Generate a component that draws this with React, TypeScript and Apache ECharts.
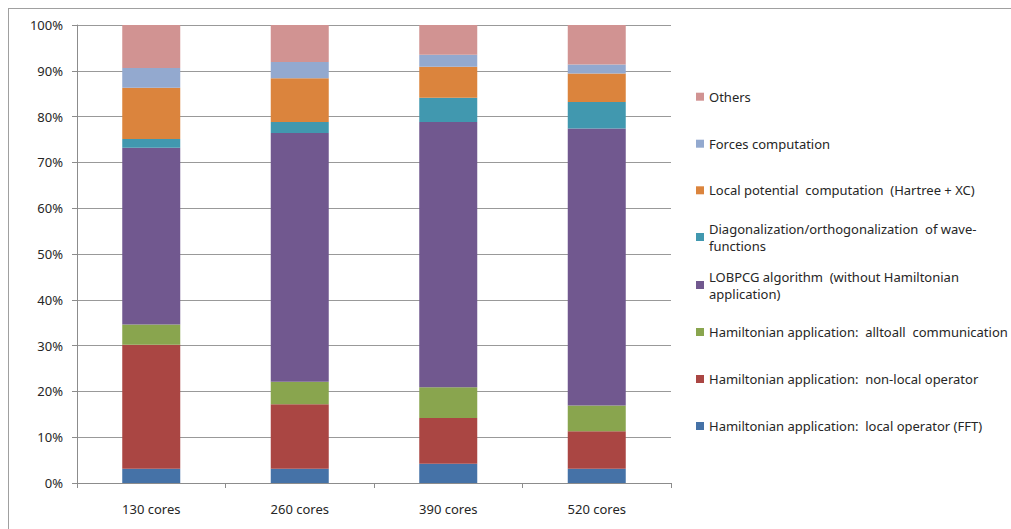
import React, { useEffect, useRef } from "react";
import * as echarts from "echarts";

const categories = ["130 cores", "260 cores", "390 cores", "520 cores"];
const yTicks = { min: 0, max: 100, interval: 10 };

const fftLocal = [3.1, 3.1, 4.2, 3.1];
const nonLocal = [27.1, 14.1, 10.0, 8.2];
const alltoall = [4.4, 4.9, 6.7, 5.6];
const lobpcg = [38.6, 54.3, 57.9, 60.5];
const diagOrtho = [1.9, 2.4, 5.3, 5.8];
const localPot = [11.2, 9.6, 6.8, 6.2];
const forces = [4.3, 3.5, 2.6, 2.0];
const others = [9.4, 8.1, 6.5, 8.6];

const seriesDefs = [
  { name: "Hamiltonian application: local operator (FFT)", data: fftLocal, color: "#4572A7" },
  { name: "Hamiltonian application: non-local operator", data: nonLocal, color: "#AA4643" },
  { name: "Hamiltonian application: alltoall communication", data: alltoall, color: "#89A54E" },
  { name: "LOBPCG algorithm (without Hamiltonian application)", data: lobpcg, color: "#71588F" },
  { name: "Diagonalization/orthogonalization of wave-functions", data: diagOrtho, color: "#4198AF" },
  { name: "Local potential computation (Hartree + XC)", data: localPot, color: "#DB843D" },
  { name: "Forces computation", data: forces, color: "#93A9CF" },
  { name: "Others", data: others, color: "#D19392" },
];

// legend display text (wrapped as in the reference)
const legendLabels: Record<string, string> = {
  "Others": "Others",
  "Forces computation": "Forces computation",
  "Local potential computation (Hartree + XC)": "Local potential  computation  (Hartree + XC)",
  "Diagonalization/orthogonalization of wave-functions": "Diagonalization/orthogonalization  of wave-\nfunctions",
  "LOBPCG algorithm (without Hamiltonian application)": "LOBPCG algorithm  (without Hamiltonian\napplication)",
  "Hamiltonian application: alltoall communication": "Hamiltonian application:  alltoall  communication",
  "Hamiltonian application: non-local operator": "Hamiltonian application:  non-local operator",
  "Hamiltonian application: local operator (FFT)": "Hamiltonian application:  local operator (FFT)",
};
const legendOrder = [
  "Others",
  "Forces computation",
  "Local potential computation (Hartree + XC)",
  "Diagonalization/orthogonalization of wave-functions",
  "LOBPCG algorithm (without Hamiltonian application)",
  "Hamiltonian application: alltoall communication",
  "Hamiltonian application: non-local operator",
  "Hamiltonian application: local operator (FFT)",
];
const legendCenters = [87.7, 134.7, 181.3, 228, 276, 323, 370, 417];

const FONT = "Noto Sans";
const TEXT = "#262626";

export default function App() {
  const ref = useRef<HTMLDivElement>(null);
  useEffect(() => {
    if (!ref.current) return;
    const chart = echarts.init(ref.current, undefined, { renderer: "svg" });
    const LH = 17;
    const legends = legendOrder.map((name, i) => {
      const label = legendLabels[name];
      const twoLine = label.includes("\n");
      return {
        show: true,
        orient: "vertical",
        left: 687,
        top: legendCenters[i] - (twoLine ? LH * 1.5 : LH / 2),
        padding: 0,
        itemWidth: 8,
        itemHeight: 8,
        icon: "rect",
        selectedMode: false,
        data: [name],
        formatter: () => label,
        textStyle: {
          fontFamily: FONT,
          fontSize: 13,
          color: TEXT,
          lineHeight: LH,
          padding: twoLine ? [LH, 0, 0, 0] : 0,
        },
      };
    });
    chart.setOption({
      animation: false,
      backgroundColor: "#fff",
      legend: legends,
      grid: { left: 68, top: 16, width: 594, height: 458 },
      xAxis: {
        type: "category",
        data: categories,
        axisLine: { lineStyle: { color: "#8c8c8c", width: 1 } },
        axisTick: { show: true, length: 5, lineStyle: { color: "#8c8c8c" } },
        axisLabel: { fontFamily: FONT, fontSize: 13, color: TEXT, margin: 19 },
      },
      yAxis: {
        type: "value",
        min: yTicks.min,
        max: yTicks.max,
        interval: yTicks.interval,
        axisLine: { show: true, lineStyle: { color: "#8c8c8c", width: 1 } },
        axisTick: { show: true, length: 5, lineStyle: { color: "#8c8c8c" } },
        axisLabel: { fontFamily: FONT, fontSize: 13, color: TEXT, margin: 14, formatter: "{value}%" },
        splitLine: { show: true, lineStyle: { color: "#999999", width: 1 } },
      },
      series: seriesDefs.map((s) => ({
        type: "bar",
        name: s.name,
        stack: "total",
        data: s.data,
        barWidth: 58,
        itemStyle: { color: s.color },
      })),
    });
    return () => chart.dispose();
  }, []);
  return (
    <div
      style={{
        position: "fixed",
        left: 8,
        top: 8,
        width: 1003,
        height: 521,
        borderTop: "1px solid #a0a0a0",
        borderLeft: "1px solid #a0a0a0",
        boxSizing: "border-box",
        background: "#fff",
      }}
    >
      <div ref={ref} style={{ width: 1002, height: 520 }} />
    </div>
  );
}
